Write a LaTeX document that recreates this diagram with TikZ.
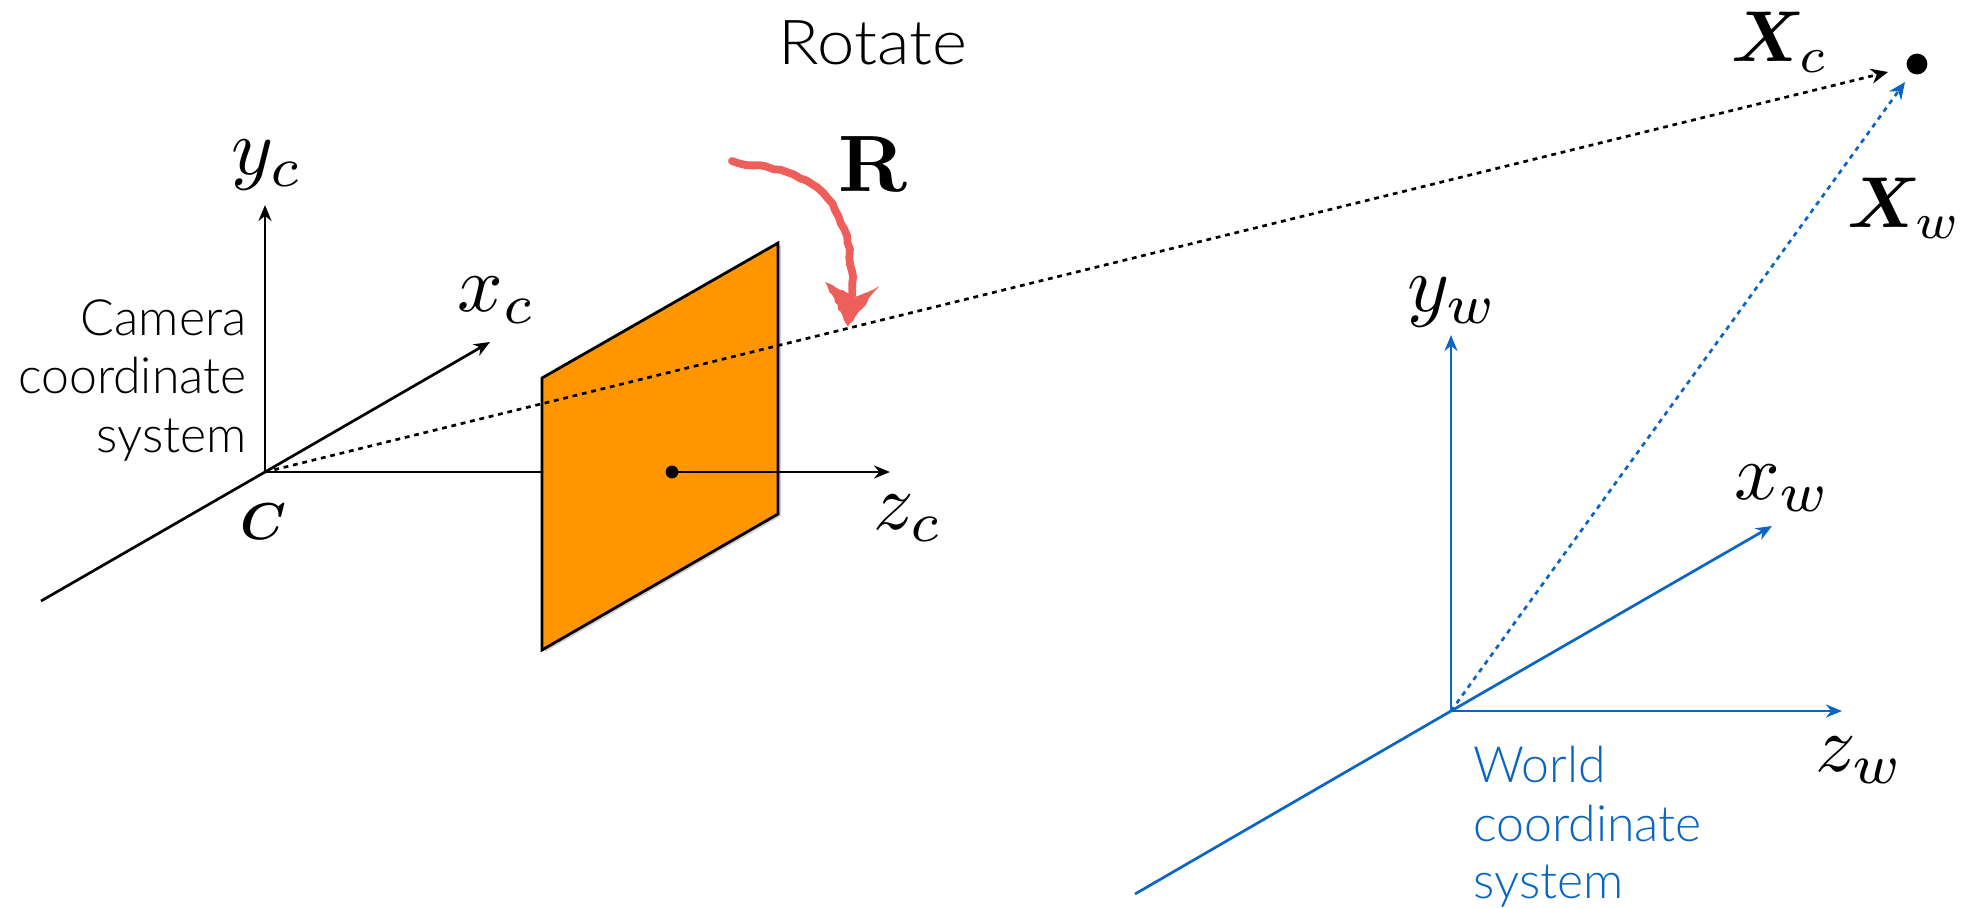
\documentclass[tikz,border=0pt]{standalone}
\usepackage[no-math]{fontspec}
\usepackage{amsmath,bm}
\setmainfont{Lato Light}
\usetikzlibrary{arrows.meta,decorations.pathmorphing}
\definecolor{wblue}{HTML}{0A66C2}
\definecolor{porange}{HTML}{FF9500}
\definecolor{rred}{HTML}{EE5F5B}
\pgfmathsetseed{7}
\tikzset{
 axis/.style={line width=1.35pt,-{Stealth[length=8pt,width=6.5pt]}},
 plainaxis/.style={line width=1.35pt},
 dotline/.style={line width=1.35pt,dash pattern=on 2.4pt off 2.4pt,-{Stealth[length=8.5pt,width=7.5pt]}},
 math/.style={scale=3.6,inner sep=0pt},
 bigmath/.style={scale=4.0,inner sep=0pt},
 lab/.style={font=\fontsize{25}{29}\selectfont,align=right,inner sep=0pt},
}
\begin{document}
\begin{tikzpicture}[x=0.5pt,y=-0.5pt]
\useasboundingbox (0,0) rectangle (1972,907);
% camera frame
\coordinate (C) at (265,472);
\coordinate (Cy) at (265,205);
\coordinate (Cx) at (490,342);
\coordinate (Cb) at (41,601);
\coordinate (Ce) at (542,472);
\coordinate (Pd) at (672,472);
\coordinate (Cz) at (890,472);
\coordinate (P) at (1917,64);
\coordinate (Xc) at (1888,72);
\draw[plainaxis] (Cb) -- (C);
\draw[axis] (C) -- (Cy);
\draw[axis] (C) -- (Cx);
\draw[plainaxis] (C) -- (Ce);
\coordinate (P1) at (542,378);
\coordinate (P2) at (778,243);
\coordinate (P3) at (778,514);
\coordinate (P4) at (542,650);
\fill[black!18] ([xshift=1.5pt,yshift=-1pt]P1) -- ([xshift=1.5pt,yshift=-1pt]P2) -- ([xshift=1.5pt,yshift=-1pt]P3) -- ([xshift=1.5pt,yshift=-1pt]P4) -- cycle;
\draw[fill=porange,line width=1.4pt,line join=miter] (P1) -- (P2) -- (P3) -- (P4) -- cycle;
\draw[dotline] (C) -- (Xc);
\fill (Pd) circle[radius=3.2pt];
\draw[axis] (Pd) -- (Cz);
% point
\fill (P) circle[radius=5.2pt];
% world frame
\coordinate (W) at (1451,711);
\coordinate (Wy) at (1451,335);
\coordinate (Wx) at (1772,526);
\coordinate (Wz) at (1842,711);
\coordinate (Wb) at (1135,894);
\coordinate (Xw) at (1905,82);
\begin{scope}[wblue]
\draw[plainaxis] (Wb) -- (W);
\draw[axis] (W) -- (Wy);
\draw[axis] (W) -- (Wx);
\draw[axis] (W) -- (Wz);
\draw[dotline] (W) -- (Xw);
\end{scope}
% red hand-drawn arrow
\coordinate (R0) at (732,161);
\coordinate (R1) at (852,295);
\coordinate (Rt) at (848,327);
\coordinate (Rl) at (825,282);
\coordinate (Rr) at (879,286);
\coordinate (Rn) at (852,296);
\draw[rred,line width=3.9pt,line cap=round,line join=round,
  decorate,decoration={random steps,segment length=3.5pt,amplitude=0.6pt}]
  (R0) .. controls (760,172) and (855,155) .. (R1);
\fill[rred,decorate,decoration={random steps,segment length=2pt,amplitude=0.4pt}]
  (Rt) -- (Rl) .. controls (835,288) and (845,290) .. (Rn) .. controls (860,296) and (868,292) .. (Rr) -- cycle;
% labels
\node[font=\fontsize{31}{36}\selectfont,xscale=1.08,inner sep=0pt] (rot) at (873,43) {Rotate};
\node[bigmath] (R) at (873,164) {$\mathbf{R}$};
\node[bigmath] (yc) at (267,165) {$y_c$};
\node[bigmath] (xc) at (497,300) {$x_c$};
\node[bigmath] (zc) at (908,518) {$z_c$};
\node[math,scale=0.72] (c) at (263,522) {$\bm{C}$};
\node[math] (Xcl) at (1780,42) {$\bm{X}_c$};
\node[math] (Xwl) at (1905,208) {$\bm{X}_w$};
\node[bigmath] (yw) at (1453,302) {$y_w$};
\node[bigmath] (xw) at (1783,488) {$x_w$};
\node[bigmath] (zw) at (1860,760) {$z_w$};
\node[lab,anchor=base east] (cam1) at (247,335) {Camera};
\node[lab,anchor=base east] (cam2) at (247,393) {coordinate};
\node[lab,anchor=base east] (cam3) at (247,452) {system};
\begin{scope}[wblue]
\node[lab,anchor=base west] (w1) at (1473,782) {World};
\node[lab,anchor=base west] (w2) at (1473,841) {coordinate};
\node[lab,anchor=base west] (w3) at (1473,898) {system};
\end{scope}
\end{tikzpicture}
\end{document}
